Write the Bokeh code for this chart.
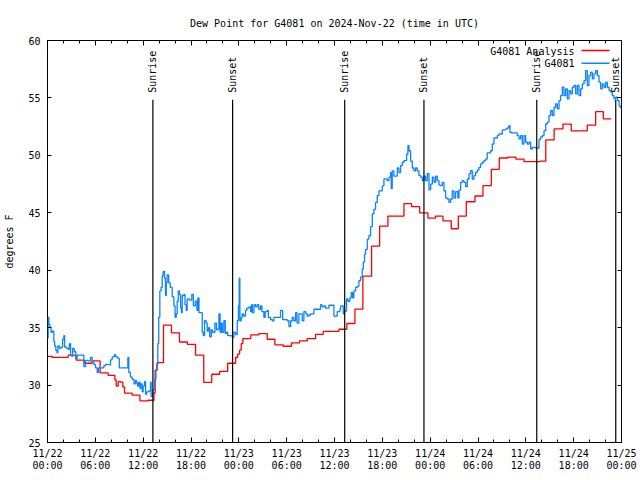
import math
from bokeh.plotting import figure
from bokeh.models import Range1d, LinearAxis, FixedTicker, Label, BoxAnnotation
from bokeh.core.properties import value
from bokeh.embed import file_html
from bokeh.resources import INLINE

FONT = "DejaVu Sans Mono"

title_text = "Dew Point for G4081 on 2024-Nov-22 (time in UTC)"
y_label = "degrees F"

# x axis is hours since 2024-11-22 00:00 UTC
tick_hours = [0, 6, 12, 18, 24, 30, 36, 42, 48, 54, 60, 66, 72]
tick_days = ["11/22", "11/22", "11/22", "11/22", "11/23", "11/23", "11/23",
             "11/23", "11/24", "11/24", "11/24", "11/24", "11/25"]
tick_times = ["00:00", "06:00", "12:00", "18:00", "00:00", "06:00", "12:00",
              "18:00", "00:00", "06:00", "12:00", "18:00", "00:00"]
minor_hours = [0, 2, 4, 6, 8, 10, 12, 14, 16, 18, 20, 22, 24, 26, 28, 30, 32, 34,
               36, 38, 40, 42, 44, 46, 48, 50, 52, 54, 56, 58, 60, 62, 64, 66, 68, 70, 72]
y_ticks = [25, 30, 35, 40, 45, 50, 55, 60]

# G4081 observations
obs_hours = [
    0.0, 0.08, 0.17, 0.3, 0.45, 0.6, 0.79, 0.9, 1.05, 1.2, 1.3, 1.5, 1.7, 1.9, 2.05, 2.15,
    2.4, 2.6, 2.75, 2.89, 3.05, 3.15, 3.35, 3.55, 3.72, 4.56, 4.77, 5.1, 5.4, 5.6, 5.81,
    6.02, 6.23, 6.4, 7.07, 7.3, 7.7, 7.9, 8.11, 8.4, 8.53, 8.7, 8.82, 9.0, 10.08, 10.2,
    10.4, 10.62, 10.85, 11.04, 11.15, 11.3, 11.46, 11.6, 11.7, 11.88, 12.0, 12.17, 12.3,
    12.42, 12.71, 12.92, 13.0, 13.2, 13.43, 13.6, 13.7, 13.84, 13.95, 14.09, 14.25, 14.39,
    14.5, 14.68, 14.8, 14.9, 15.01, 15.2, 15.4, 15.64, 15.85, 16.0, 16.15, 16.27, 16.4,
    16.55, 16.69, 16.8, 16.9, 17.11, 17.25, 17.4, 17.52, 17.8, 18.1, 18.3, 18.55, 18.75,
    18.86, 19.0, 19.41, 19.55, 19.7, 19.9, 20.03, 20.2, 20.35, 20.54, 20.7, 21.0, 21.2,
    21.4, 21.5, 21.65, 21.8, 21.92, 22.12, 22.3, 22.46, 22.6, 23.17, 23.38, 23.6, 23.8,
    23.95, 24.05, 24.13, 24.3, 24.42, 24.6, 24.84, 25.0, 25.26, 25.47, 25.6, 25.7, 25.9,
    26.1, 26.3, 26.5, 26.73, 26.9, 27.14, 27.3, 27.56, 27.7, 27.98, 28.2, 28.4, 29.23,
    29.5, 30.07, 30.28, 30.5, 30.7, 30.9, 31.12, 31.3, 31.54, 31.95, 32.16, 32.4, 32.58,
    32.8, 33.0, 33.42, 34.25, 34.46, 34.7, 34.88, 35.3, 35.93, 36.34, 36.68,
    36.76, 37.1, 37.26, 37.51, 37.68, 37.93, 38.1, 38.27, 38.43, 38.64, 38.85, 39.06,
    39.27, 39.48, 39.61, 39.77, 39.9, 40.11, 40.32, 40.53, 40.74, 40.94, 41.15, 41.36,
    41.57, 41.99, 42.2, 42.61, 42.83, 43.04, 43.12, 43.24, 43.45, 43.87, 44.08, 44.29,
    44.5, 44.71, 45.05, 45.21, 45.34, 45.55, 45.76, 45.96, 46.17, 46.38, 46.59, 46.8,
    47.01, 47.22, 47.43, 47.64, 47.85, 48.06, 48.27, 48.48, 48.69, 48.9, 49.11,
    49.31, 49.52, 49.73, 49.94, 50.15, 50.36, 50.56, 50.77, 50.98, 51.19, 51.48, 51.61,
    51.82, 52.03, 52.24, 52.45, 52.66, 52.87, 53.07, 53.28, 53.49, 53.7, 53.91, 54.12,
    54.33, 54.54, 54.74, 54.95, 55.16, 55.58, 55.79, 56.0, 56.42, 56.63, 57.05, 57.47,
    57.68, 57.88, 58.01, 58.18, 58.93, 59.14, 59.35, 59.56, 59.77, 59.98, 60.19, 60.4,
    60.61, 60.81, 61.23, 61.65, 61.86, 62.07, 62.28,
    62.49, 62.69, 62.9, 63.11, 63.32, 63.53, 63.74, 63.95, 64.16, 64.36, 64.57, 64.78,
    64.99, 65.2, 65.41, 65.62, 65.83, 66.04, 66.25, 66.46, 66.67, 66.88, 67.09, 67.3,
    67.5, 67.71, 67.92, 68.13, 68.34, 68.55, 68.76, 68.97, 69.18, 69.39, 69.6, 69.81,
    70.02, 70.23, 70.44, 70.64, 70.85, 71.06, 71.27, 71.48, 71.69, 71.85,
]
obs_dewpt = [
    34.1, 35.9, 35.3, 35.0, 34.6, 34.7, 33.8, 33.4, 33.0, 32.8, 33.4, 33.2, 33.3, 34.0, 34.3, 33.3,
    33.2, 33.1, 33.6, 32.6, 32.5, 33.2, 32.9, 32.3, 32.6, 31.6, 32.15, 32.1, 32.4, 32.0, 31.8,
    31.5, 31.1, 31.5, 31.7, 31.8, 31.75, 32.2, 32.45, 32.65, 32.5, 32.4, 32.35, 31.5, 32.4, 31.1,
    30.7, 30.5, 30.1, 30.4, 30.2, 29.9, 30.25, 29.7, 30.1, 29.4, 29.9, 30.3, 29.2,
    29.4, 29.5, 30.25, 29.0, 29.6, 30.5, 31.3, 31.8, 33.6, 35.9, 38.2, 38.5, 39.5,
    39.9, 39.3, 37.8, 38.9, 39.6, 38.9, 38.5, 37.7, 36.9, 35.9, 36.2, 37.3, 38.2,
    37.9, 36.7, 36.3, 37.8, 37.9, 37.0, 36.5, 37.5, 37.4, 37.9, 36.9, 37.3, 36.5,
    37.6, 36.3, 34.6, 34.3, 35.6, 35.4, 34.7, 35.0, 34.2, 34.8, 34.6, 35.4, 34.8,
    34.9, 36.2, 34.6, 35.4, 34.6, 35.6, 34.5, 34.6, 34.3, 34.15, 34.6, 34.4, 35.6,
    36.9, 39.3, 35.6, 35.9, 36.2, 36.0, 36.5, 36.7, 36.8, 36.4, 37.0, 36.3, 37.0,
    36.8, 37.0, 36.6, 36.9, 36.4, 35.9, 36.4, 36.5, 35.9, 35.7, 35.6, 35.9, 36.5,
    35.7, 35.6, 35.1, 35.6, 35.9, 35.6, 36.3, 35.4, 36.2, 35.6, 36.4, 36.2, 36.0,
    36.1, 36.2, 36.6, 37.0, 36.8, 36.9, 36.7, 36.95, 36.0, 36.4, 36.6,
    36.9, 36.2, 36.45, 37.5, 37.3, 37.6, 38.05, 37.6, 38.2, 38.5, 38.6, 39.1,
    39.4, 40.1, 40.7, 41.4, 41.8, 42.7, 43.0, 43.8, 44.9, 45.3, 45.9, 46.5,
    46.9, 47.35, 47.95, 47.8, 48.1, 48.5, 47.1, 48.65, 48.2, 48.9, 48.5, 49.1,
    49.4, 49.55, 50.1, 50.85, 50.4, 49.5, 48.9, 48.65, 48.9, 48.65, 48.25, 48.1,
    47.8, 48.2, 47.8, 48.4, 47.0, 47.5, 48.1, 47.65, 48.2, 47.8, 47.4,
    47.36, 47.65, 46.92, 46.28, 46.2, 45.9, 46.2, 46.9, 46.28, 46.83, 46.28, 46.98,
    47.65, 47.8, 47.65, 47.27, 47.94, 48.38, 48.67, 47.94, 48.23, 48.52, 48.72, 48.96,
    49.25, 49.4, 49.54, 49.68, 50.21, 50.4, 50.99, 51.51, 51.72, 51.86, 52.21, 52.3,
    52.4, 52.59, 52.01, 51.95, 51.72, 51.43, 51.72, 50.99, 51.72, 51.14, 50.99, 51.14,
    50.55, 50.7, 50.64, 51.4, 51.6, 51.72, 52.15,
    52.73, 52.9, 53.46, 53.9, 53.46, 54.19, 54.48, 54.04, 54.77, 55.2, 55.93, 55.2,
    55.79, 54.91, 55.64, 55.35, 55.93, 56.08, 55.35, 56.08, 55.2, 55.79, 56.22, 56.51,
    57.38, 56.08, 56.95, 57.24, 56.66, 57.1, 57.38, 56.95, 56.37, 55.79, 56.22, 55.93,
    56.37, 55.93, 55.64, 55.5, 55.2, 54.91, 55.06, 54.77, 54.33, 54.1,
]

# G4081 Analysis
ana_hours = [
    0.0, 0.6, 2.6, 3.6, 4.6, 5.6, 6.6, 7.6, 8.45, 8.62, 8.87, 9.16, 9.45, 9.66, 10.62,
    11.59, 12.6, 13.35, 13.5, 13.75, 14.55, 15.55, 16.55, 17.55, 18.57, 19.6, 20.6,
    21.6, 22.6, 23.6, 23.85, 24.1, 24.3, 24.5, 25.5, 26.52, 27.56, 28.52, 29.57, 30.61,
    31.62, 32.58, 33.63, 34.59, 36.55, 37.55, 38.56, 39.56, 40.65, 41.66, 42.7, 44.71,
    45.67, 46.68, 47.72, 48.68, 49.6, 50.65, 51.53, 52.53, 53.62, 54.62, 55.67, 56.67,
    57.75, 58.75, 59.77, 61.77, 62.5, 63.55, 64.66, 65.7, 67.71, 68.76, 69.72, 70.7,
]
ana_dewpt = [
    32.5, 32.42, 32.6, 32.17, 31.9, 32.1, 31.06, 30.85, 30.45, 29.9, 30.3, 30.25, 29.85, 29.3, 29.12,
    28.62, 28.68, 29.3, 31.3, 31.95, 35.22, 34.55, 33.75, 33.55, 32.6, 30.24, 30.94,
    31.2, 31.9, 32.4, 32.7, 33.05, 33.6, 34.05, 34.37, 34.48, 33.99, 33.5, 33.38, 33.67,
    33.84, 34.05, 34.42, 34.68, 34.86, 35.36, 36.61, 39.48, 42.1, 43.84, 44.71, 45.79,
    45.53, 45.0, 44.54, 44.71, 44.3, 43.61, 44.71, 45.96, 46.46, 47.36, 48.78, 49.77,
    49.85, 49.68, 49.45, 49.5, 51.35, 52.3, 52.72, 52.14, 52.64, 53.8, 53.18, 53.18,
]

sun_hours = [13.22, 23.22, 37.28, 47.22, 61.37, 71.28]
sun_labels = ["Sunrise", "Sunset", "Sunrise", "Sunset", "Sunrise", "Sunset"]
sun_line_bottom = 25.0
sun_line_top = 54.85
sun_text_y = 55.45

p = figure(width=640, height=480, x_range=Range1d(0, 72), y_range=Range1d(25, 60),
           output_backend="svg", toolbar_location=None,
           min_border_left=47, min_border_right=19, min_border_top=40, min_border_bottom=38)
p.background_fill_color = "white"
p.border_fill_color = "white"
p.outline_line_color = "black"
p.outline_line_width = 1
p.xgrid.visible = False
p.ygrid.visible = False

p.title.text = title_text
p.title.align = "center"
p.title.text_font = FONT
p.title.text_font_size = "10px"
p.title.text_font_style = "normal"
p.title.text_color = "black"
p.title.standoff = 23

x_ticker = FixedTicker(ticks=tick_hours, minor_ticks=minor_hours)
y_ticker = FixedTicker(ticks=y_ticks, minor_ticks=[])

xa = p.xaxis[0]
xa.ticker = x_ticker
xa.major_label_overrides = {h: f"{d}\n{t}" for h, d, t in zip(tick_hours, tick_days, tick_times)}
xa.major_tick_in = 5
xa.major_tick_out = 0
xa.minor_tick_in = 3
xa.minor_tick_out = 0
xa.axis_line_color = None
xa.major_tick_line_color = "black"
xa.minor_tick_line_color = "black"
xa.major_label_text_font = FONT
xa.major_label_text_font_size = "10px"
xa.major_label_text_color = "black"
xa.major_label_text_line_height = 1.1
xa.major_label_standoff = 5

ya = p.yaxis[0]
ya.ticker = y_ticker
ya.major_tick_in = 4
ya.major_tick_out = 0
ya.minor_tick_in = 0
ya.minor_tick_out = 0
ya.axis_line_color = None
ya.major_label_text_font = FONT
ya.major_label_text_font_size = "10px"
ya.major_label_text_color = "black"
ya.major_label_standoff = 7
ya.axis_label = y_label
ya.axis_label_text_font = FONT
ya.axis_label_text_font_size = "10px"
ya.axis_label_text_font_style = "normal"
ya.axis_label_text_color = "black"
ya.axis_label_standoff = 10

blank_x = {h: "" for h in tick_hours}
blank_y = {v: "" for v in y_ticks}
top = LinearAxis(ticker=x_ticker, major_tick_in=5, major_tick_out=0, minor_tick_in=3,
                 minor_tick_out=0, axis_line_color=None, major_label_text_color=None,
                 major_label_overrides=blank_x, major_label_standoff=0)
p.add_layout(top, "above")
right = LinearAxis(ticker=y_ticker, major_tick_in=4, major_tick_out=0, minor_tick_in=0,
                   minor_tick_out=0, axis_line_color=None, major_label_text_color=None,
                   major_label_overrides=blank_y, major_label_standoff=0)
p.add_layout(right, "right")

p.step(ana_hours, ana_dewpt, mode="after", line_color="#ff0000", line_width=1.3)
p.step(obs_hours, obs_dewpt, mode="after", line_color="#0a84ff", line_width=1.3)

p.segment(x0=sun_hours, y0=[sun_line_bottom] * len(sun_hours), x1=sun_hours,
          y1=[sun_line_top] * len(sun_hours), line_color="black", line_width=1.2)
p.text(x=sun_hours, y=[sun_text_y] * len(sun_hours), text=sun_labels, angle=math.pi / 2,
       text_align="left", text_baseline="middle", text_font=value(FONT),
       text_font_size="10px", text_color="black")

# legend (text with sample line to its right)
legend_items = [("G4081 Analysis", "#ff0000", 391.5), ("G4081", "#0a84ff", 378.8)]
for name, col, yy in legend_items:
    p.add_layout(Label(x=527, y=yy, x_units="screen", y_units="screen", text=name,
                       text_align="right", text_baseline="middle", text_font=FONT,
                       text_font_size="10px", text_color="black"))
    p.add_layout(BoxAnnotation(left=534, right=562, bottom=yy - 0.2, top=yy + 1.3,
                               left_units="screen", right_units="screen",
                               bottom_units="screen", top_units="screen",
                               fill_color=col, fill_alpha=1, line_alpha=0))

open("out.html", "w").write(file_html(p, INLINE))
